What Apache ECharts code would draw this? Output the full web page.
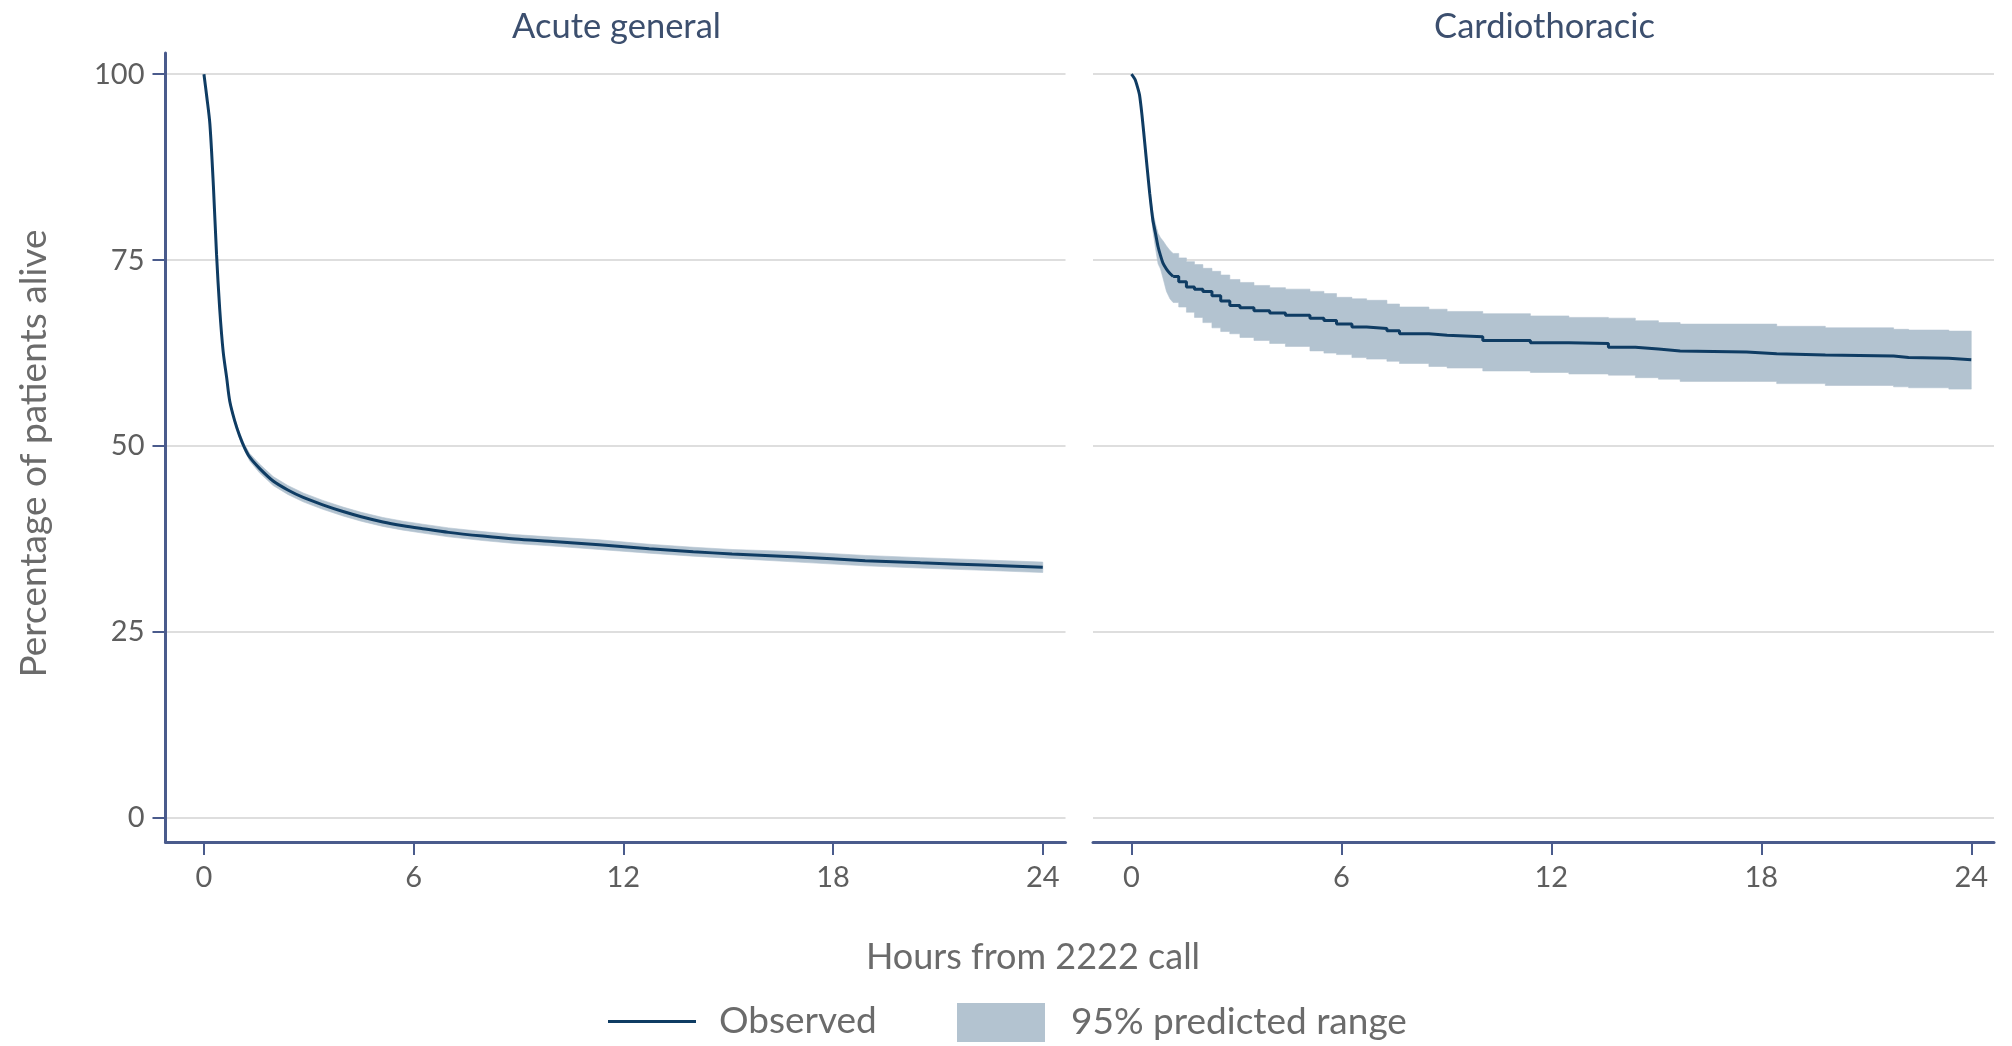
<!DOCTYPE html>
<html>
<head>
<meta charset="utf-8">
<script src="https://cdn.jsdelivr.net/npm/echarts@6/dist/echarts.min.js"></script>
<style>
html,body{margin:0;padding:0;background:#fff;}
#chart{width:2012px;height:1046px;}
</style>
</head>
<body>
<div id="chart"></div>
<script>
// ---- Data ----
const panelTitles = ['Acute general', 'Cardiothoracic'];
const xTicks = [0, 6, 12, 18, 24];
const yTicks = [0, 25, 50, 75, 100];

// Acute general
const leftHours = [0, 0.08, 0.17, 0.27, 0.36, 0.45, 0.55, 0.65, 0.74, 0.88, 1.02, 1.16, 1.31, 1.59, 1.98, 2.4, 2.84, 3.4, 3.98, 4.5, 5.12, 5.7, 6.26, 7.0, 7.98, 8.9, 9.88, 11.31, 12.74, 14.0, 15.11, 17.0, 18.92, 20.5, 22.3, 24];
const leftObs   = [100, 97, 93.3, 85, 75.8, 68.5, 62.7, 59.2, 56.0, 53.4, 51.4, 49.8, 48.5, 47.0, 45.3, 44.1, 43.1, 42.1, 41.2, 40.5, 39.8, 39.3, 38.9, 38.4, 37.9, 37.5, 37.2, 36.75, 36.2, 35.8, 35.5, 35.1, 34.6, 34.3, 34.0, 33.7];
const leftLower = [100, 97, 93.3, 85, 75.8, 68.5, 62.6, 59.0, 55.8, 53.1, 51.0, 49.4, 48.0, 46.4, 44.7, 43.5, 42.5, 41.5, 40.6, 39.9, 39.2, 38.7, 38.3, 37.8, 37.3, 36.9, 36.6, 36.1, 35.6, 35.2, 34.9, 34.4, 33.9, 33.6, 33.3, 33.0];
const leftUpper = [100, 97, 93.3, 85, 75.8, 68.5, 62.8, 59.4, 56.2, 53.7, 51.8, 50.2, 49.0, 47.6, 45.9, 44.7, 43.7, 42.7, 41.8, 41.1, 40.4, 39.9, 39.5, 39.0, 38.5, 38.1, 37.8, 37.4, 36.8, 36.4, 36.1, 35.8, 35.3, 35.0, 34.7, 34.4];

// Cardiothoracic
const rightHours = [0, 0.1, 0.17, 0.23, 0.3, 0.38, 0.45, 0.52, 0.61, 0.69, 0.76, 0.83, 0.9, 1.0, 1.1, 1.19, 1.35, 1.57, 1.8, 2.04, 2.3, 2.55, 2.81, 3.1, 3.5, 3.95, 4.4, 5.1, 5.5, 5.86, 6.3, 6.72, 7.3, 7.66, 8.5, 9.02, 10.04, 11.4, 12.5, 13.63, 14.4, 15.06, 15.68, 17.58, 18.44, 19.83, 21.78, 22.21, 23.36, 24];
const rightObs   = [100, 99.3, 98.3, 97.2, 94.5, 90.7, 87.3, 84.0, 80.4, 78.5, 76.8, 75.6, 74.6, 73.8, 73.2, 72.8, 72.1, 71.4, 71.1, 70.8, 70.2, 69.5, 68.9, 68.6, 68.2, 67.9, 67.6, 67.2, 66.9, 66.4, 66.0, 65.8, 65.5, 65.1, 64.9, 64.7, 64.2, 63.9, 63.8, 63.3, 63.05, 62.8, 62.65, 62.4, 62.25, 62.1, 61.9, 61.8, 61.6, 61.6];
const rightUpper = [100, 99.3, 98.3, 97.2, 94.5, 90.7, 87.3, 84.3, 81.5, 79.8, 78.6, 78.0, 77.6, 76.9, 76.3, 75.9, 75.3, 74.8, 74.4, 73.9, 73.5, 73.0, 72.4, 72.0, 71.6, 71.3, 71.1, 70.8, 70.5, 70.0, 69.8, 69.6, 69.1, 68.7, 68.4, 68.1, 67.8, 67.5, 67.3, 67.2, 66.85, 66.6, 66.4, 66.4, 66.1, 65.9, 65.7, 65.6, 65.46, 65.46];
const rightLower = [100, 99.3, 98.3, 97.2, 94.5, 90.7, 87.3, 83.5, 79.0, 76.5, 74.5, 73.8, 72.6, 70.8, 69.8, 69.3, 68.7, 68.0, 67.3, 66.6, 65.9, 65.4, 65.1, 64.6, 64.2, 63.8, 63.4, 62.8, 62.5, 62.3, 61.9, 61.7, 61.4, 61.1, 60.7, 60.5, 60.1, 59.9, 59.7, 59.54, 59.2, 59.0, 58.7, 58.7, 58.4, 58.15, 57.97, 57.84, 57.66, 57.66];
const rightStepFrom = 15; // from this point on the survival curve is drawn as steps

// ---- Styling ----
const FONT = 'Lato';
const LINE_COLOR = '#0f3c63';
const BAND_COLOR = '#b3c3d0';
const AXIS_COLOR = '#4a5b8c';
const GRID_COLOR = '#dedede';
const TICK_TEXT = '#5e5e5e';
const TITLE_TEXT = '#3c4f6e';
const AXISNAME_TEXT = '#6b6b6b';

function pairs(xs, ys) { return xs.map((x, i) => [x, ys[i]]); }

const gridTop = 53, gridH = 789;
const grids = [
  { left: 165.5, top: gridTop, width: 900, height: gridH },
  { left: 1093, top: gridTop, width: 901, height: gridH }
];

function xAxis(idx) {
  return {
    type: 'value', gridIndex: idx, min: -1.1, max: 24.65,
    axisLine: { show: true, onZero: false, lineStyle: { color: AXIS_COLOR, width: 3 } },
    axisTick: { show: true, length: 13, lineStyle: { color: AXIS_COLOR, width: 2 }, customValues: xTicks },
    axisLabel: { show: true, margin: 21, color: TICK_TEXT, fontFamily: FONT, fontSize: 29, customValues: xTicks },
    splitLine: { show: false }
  };
}
function yAxis(idx) {
  const show = idx === 0;
  return {
    type: 'value', gridIndex: idx, min: -3.23, max: 102.85,
    name: show ? 'Percentage of patients alive' : '',
    nameLocation: 'middle', nameGap: 113, nameRotate: 90,
    nameTextStyle: { color: AXISNAME_TEXT, fontFamily: FONT, fontSize: 37, padding: [0, 12, 0, 0] },
    axisLine: { show: show, onZero: false, lineStyle: { color: AXIS_COLOR, width: 3 } },
    axisTick: { show: show, length: 13, lineStyle: { color: AXIS_COLOR, width: 2 }, customValues: yTicks },
    axisLabel: { show: show, margin: 21, color: TICK_TEXT, fontFamily: FONT, fontSize: 29, customValues: yTicks },
    splitLine: { show: true, lineStyle: { color: GRID_COLOR, width: 2 } }
  };
}

// band drawn as one polygon through the axes' own coordinate mapping
function bandSeries(idx, xs, lo, hi, stepFrom) {
  return {
    name: '95% predicted range', type: 'custom', coordinateSystem: 'cartesian2d',
    xAxisIndex: idx, yAxisIndex: idx, silent: true, z: 1,
    itemStyle: { color: BAND_COLOR },
    data: xs.map((x, i) => [x, lo[i], hi[i]]),
    encode: { x: 0, y: [1, 2] },
    renderItem: function (params, api) {
      if (params.dataIndex !== 0) return null;
      const top = [], bot = [];
      for (let i = 0; i < xs.length; i++) {
        if (stepFrom != null && i > stepFrom) {
          top.push(api.coord([xs[i], hi[i - 1]]));
          bot.push(api.coord([xs[i], lo[i - 1]]));
        }
        top.push(api.coord([xs[i], hi[i]]));
        bot.push(api.coord([xs[i], lo[i]]));
      }
      return {
        type: 'polygon', shape: { points: top.concat(bot.reverse()) },
        style: { fill: BAND_COLOR, stroke: BAND_COLOR, lineWidth: 0.6 }
      };
    }
  };
}

const legendText = { color: AXISNAME_TEXT, fontFamily: FONT, fontSize: 37 };

const option = {
  animation: false,
  backgroundColor: '#ffffff',
  title: [
    { text: panelTitles[0], left: 611.5, top: 4, textAlign: 'center',
      textStyle: { color: TITLE_TEXT, fontFamily: FONT, fontSize: 34.5, fontWeight: 'normal' } },
    { text: panelTitles[1], left: 1539.5, top: 4, textAlign: 'center',
      textStyle: { color: TITLE_TEXT, fontFamily: FONT, fontSize: 34.5, fontWeight: 'normal' } },
    { text: 'Hours from 2222 call', left: 1028, top: 934, textAlign: 'center',
      textStyle: { color: AXISNAME_TEXT, fontFamily: FONT, fontSize: 36, fontWeight: 'normal' } }
  ],
  legend: [
    { data: [{ name: 'Observed', icon: 'path://M0,0H88V3H0Z', itemStyle: { color: LINE_COLOR } }],
      left: 603, top: 998, itemWidth: 88, itemHeight: 39, selectedMode: false,
      textStyle: Object.assign({ padding: [0, 0, 0, 18] }, legendText) },
    { data: [{ name: '95% predicted range', icon: 'rect', itemStyle: { color: BAND_COLOR } }],
      left: 952, top: 998, itemWidth: 88, itemHeight: 39, selectedMode: false,
      textStyle: Object.assign({ padding: [0, 0, 0, 21] }, legendText) }
  ],
  grid: grids,
  xAxis: [xAxis(0), xAxis(1)],
  yAxis: [yAxis(0), yAxis(1)],
  series: [
    bandSeries(0, leftHours, leftLower, leftUpper, null),
    { name: 'Observed', type: 'line', xAxisIndex: 0, yAxisIndex: 0, data: pairs(leftHours, leftObs),
      symbol: 'none', smooth: 0.3, lineStyle: { color: LINE_COLOR, width: 3 }, itemStyle: { color: LINE_COLOR }, z: 3 },
    bandSeries(1, rightHours, rightLower, rightUpper, rightStepFrom),
    { name: 'Observed', type: 'line', xAxisIndex: 1, yAxisIndex: 1,
      data: pairs(rightHours, rightObs).slice(0, rightStepFrom + 1),
      symbol: 'none', smooth: 0.2, lineStyle: { color: LINE_COLOR, width: 3 }, itemStyle: { color: LINE_COLOR }, z: 3 },
    { name: 'Observed', type: 'line', xAxisIndex: 1, yAxisIndex: 1,
      data: pairs(rightHours, rightObs).slice(rightStepFrom),
      symbol: 'none', step: 'end', lineStyle: { color: LINE_COLOR, width: 3 }, itemStyle: { color: LINE_COLOR }, z: 3 }
  ]
};

const chart = echarts.init(document.getElementById('chart'), null, { renderer: 'canvas' });
chart.setOption(option);
</script>
</body>
</html>
